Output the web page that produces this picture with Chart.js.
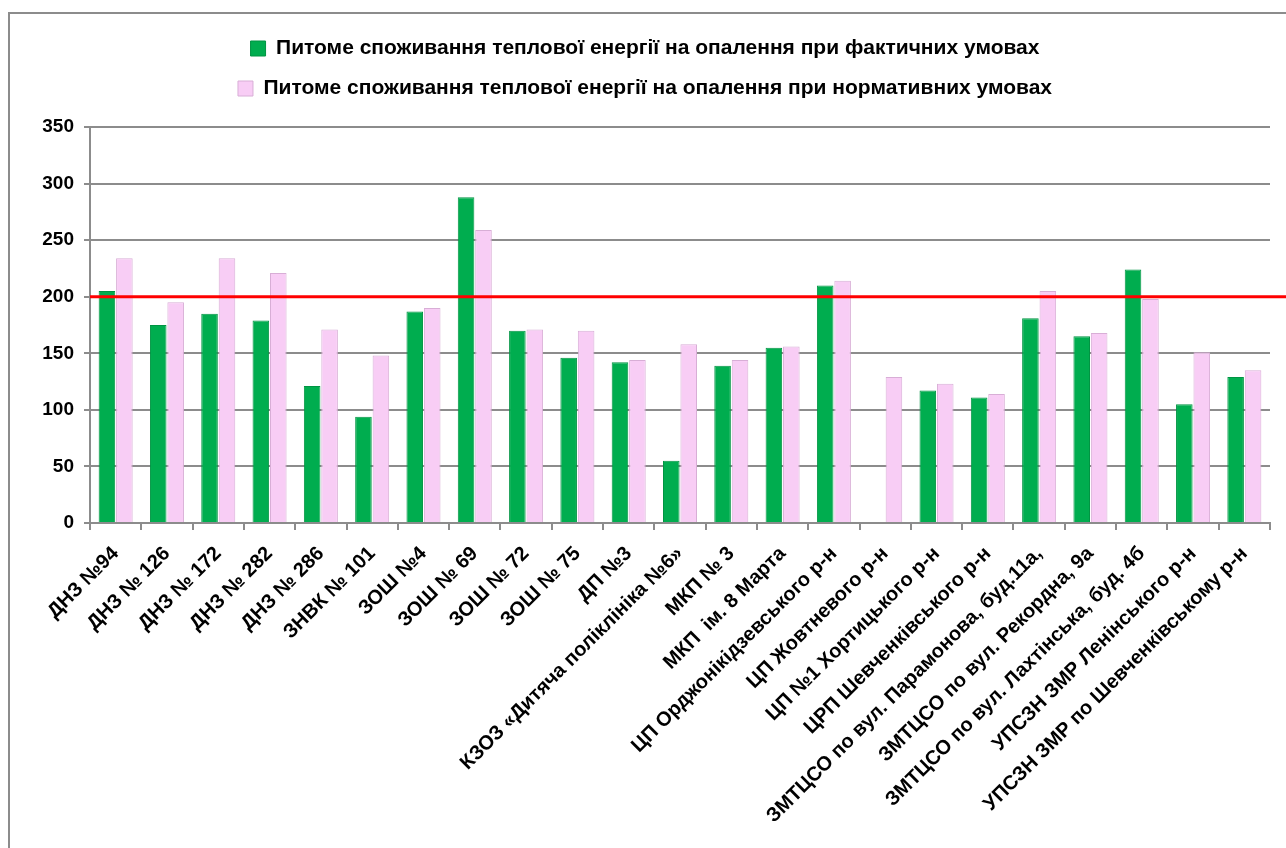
<!DOCTYPE html>
<html>
<head>
<meta charset="utf-8">
<title>Питоме споживання теплової енергії</title>
<script src="https://cdn.jsdelivr.net/npm/chart.js@4.4.1/dist/chart.umd.min.js"></script>
<style>
  html, body { margin: 0; padding: 0; background: #fff; }
  #wrap { position: relative; width: 1286px; height: 848px; overflow: hidden; }
</style>
</head>
<body>
<div id="wrap"><canvas id="heatChart" width="1286" height="848"></canvas></div>
<script>
// Objects on the x axis
const categories = [
    'ДНЗ №94', 'ДНЗ № 126', 'ДНЗ № 172', 'ДНЗ № 282', 'ДНЗ № 286', 'ЗНВК № 101',
    'ЗОШ №4', 'ЗОШ № 69', 'ЗОШ № 72', 'ЗОШ № 75', 'ДП №3',
    'КЗОЗ «Дитяча поліклініка №6»', 'МКП № 3', 'МКП  ім. 8 Марта',
    'ЦП Орджонікідзевського р-н', 'ЦП Жовтневого р-н', 'ЦП №1 Хортицького р-н',
    'ЦРП Шевченківського р-н', 'ЗМТЦСО по вул. Парамонова, буд.11а,',
    'ЗМТЦСО по вул. Рекордна, 9а', 'ЗМТЦСО по вул. Лахтінська, буд. 4б',
    'УПСЗН ЗМР Ленінського р-н', 'УПСЗН ЗМР по Шевченківському р-н'
];

const seriesNames = [
    'Питоме споживання теплової енергії на опалення при фактичних умовах',
    'Питоме споживання теплової енергії на опалення при нормативних умовах'
];

const actualValues = [205, 175, 185, 179, 121, 94, 187, 288, 170, 146, 142,
    55, 139, 155, 210, null, 117, 111, 181, 165, 224, 105, 129];
const normativeValues = [234, 195, 234, 221, 171, 148, 190, 259, 171, 170, 144,
    158, 144, 156, 214, 129, 123, 114, 205, 168, 198, 151, 135];

const yTicks = [0, 50, 100, 150, 200, 250, 300, 350];
const limitValue = 200;

const GREY = '#8c8c8c';
Chart.defaults.font.family = 'Arial, "Liberation Sans", sans-serif';

// extra room under the legend
const legendSpacing = {
    id: 'legendSpacing',
    beforeInit(chart) {
        const fit = chart.legend.fit;
        chart.legend.fit = function () {
            fit.call(this);
            this.height += 18;
        };
    }
};

// outer frame of the chart object
const chartFrame = {
    id: 'chartFrame',
    beforeDraw(chart) {
        const ctx = chart.ctx;
        ctx.save();
        ctx.strokeStyle = GREY;
        ctx.lineWidth = 2;
        ctx.strokeRect(9, 13, chart.width + 20, chart.height + 20);
        ctx.restore();
    }
};

// red norm line at 200
const limitLine = {
    id: 'limitLine',
    afterDatasetsDraw(chart) {
        const y = chart.scales.y.getPixelForValue(limitValue);
        const ctx = chart.ctx;
        ctx.save();
        ctx.strokeStyle = '#ff0000';
        ctx.lineWidth = 3;
        ctx.beginPath();
        ctx.moveTo(chart.chartArea.left, y);
        ctx.lineTo(chart.width, y);
        ctx.stroke();
        ctx.restore();
    }
};

new Chart(document.getElementById('heatChart'), {
    type: 'bar',
    data: {
        labels: categories,
        datasets: [{
            label: seriesNames[0],
            data: actualValues,
            backgroundColor: '#00ad4f',
            borderColor: '#009443',
            borderWidth: 1
        }, {
            label: seriesNames[1],
            data: normativeValues,
            backgroundColor: '#f8cdf5',
            borderColor: '#d8aed6',
            borderWidth: 1
        }]
    },
    options: {
        responsive: false,
        animation: false,
        devicePixelRatio: 1,
        layout: { padding: { left: 20, right: 16, top: 19, bottom: 0 } },
        datasets: {
            bar: { categoryPercentage: 0.68, barPercentage: 0.95 }
        },
        plugins: {
            tooltip: { enabled: false },
            legend: {
                position: 'top',
                labels: {
                    color: '#000',
                    font: { size: 21, weight: 'bold' },
                    boxWidth: 15,
                    boxHeight: 15,
                    padding: 19
                }
            }
        },
        scales: {
            x: {
                grid: {
                    offset: true,
                    drawOnChartArea: false,
                    drawTicks: true,
                    tickLength: 7,
                    color: GREY,
                    lineWidth: 2
                },
                border: { color: GREY, width: 2 },
                ticks: {
                    autoSkip: false,
                    maxRotation: 45,
                    minRotation: 45,
                    padding: 12,
                    color: '#000',
                    font: { size: 20, weight: 'bold' }
                },
                afterFit(scale) { scale.height = 325; }
            },
            y: {
                min: yTicks[0],
                max: yTicks[yTicks.length - 1],
                ticks: {
                    stepSize: yTicks[1] - yTicks[0],
                    padding: 10,
                    color: '#000',
                    font: { size: 19, weight: 'bold' }
                },
                grid: { color: GREY, lineWidth: 2, tickLength: 6 },
                border: { color: GREY, width: 2 },
                afterFit(scale) { scale.width = 70; }
            }
        }
    },
    plugins: [legendSpacing, chartFrame, limitLine]
});
</script>
</body>
</html>
